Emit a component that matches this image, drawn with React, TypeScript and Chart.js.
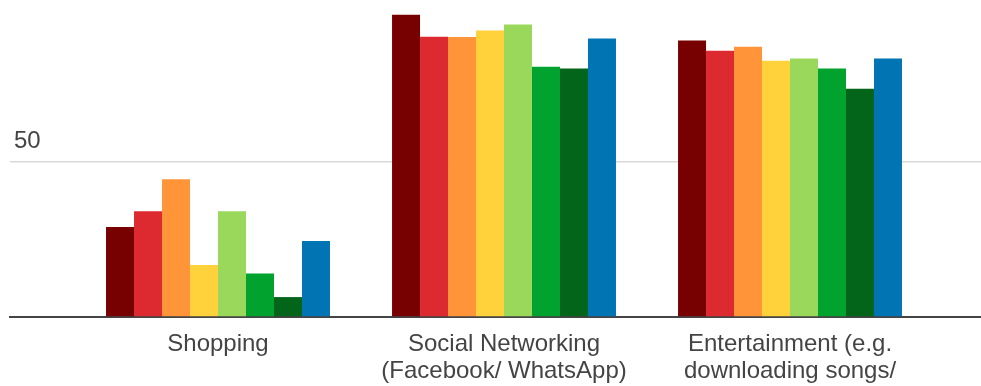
import React, { useEffect, useRef } from "react";
import { Chart, registerables } from "chart.js";

Chart.register(...registerables);

// Categories on the horizontal axis (each entry is one label, split into lines)
const categoryLines: string[][] = [
  ["Shopping"],
  ["Social Networking", "(Facebook/ WhatsApp)"],
  ["Entertainment (e.g.", "downloading songs/", "videos)"],
];

// Series values, one value per category
const series1 = [28.9, 97.1, 88.8];
const series2 = [34.0, 90.0, 85.5];
const series3 = [44.2, 89.9, 86.8];
const series4 = [16.7, 92.0, 82.3];
const series5 = [34.0, 93.9, 83.0];
const series6 = [14.0, 80.4, 79.8];
const series7 = [6.4, 79.8, 73.3];
const series8 = [24.4, 89.4, 83.0];

const seriesNames = ["A", "B", "C", "D", "E", "F", "G", "H"];
const seriesValues = [series1, series2, series3, series4, series5, series6, series7, series8];
const seriesColors = [
  "#770000",
  "#dd2a30",
  "#ff9439",
  "#ffd23c",
  "#9ad85c",
  "#02a22f",
  "#02651a",
  "#0174b3",
];

// Value axis: only the 50 gridline is labelled
const yTicks = [0, 50];
const yMax = 101.8;

const FONT = '"Liberation Sans", Arial, sans-serif';

export default function App() {
  const canvasRef = useRef<HTMLCanvasElement | null>(null);

  useEffect(() => {
    const canvas = canvasRef.current;
    if (!canvas) return;

    const datasets = seriesValues.map((vals, s) => ({
      label: seriesNames[s],
      data: vals.map((v, i) => ({ x: i + 1, y: v })),
      backgroundColor: seriesColors[s],
      borderWidth: 0,
      categoryPercentage: 0.783,
      barPercentage: 1,
    }));

    const chart = new Chart(canvas, {
      type: "bar",
      data: { datasets },
      options: {
        animation: false,
        responsive: false,
        layout: { padding: { left: 10, right: 0, top: 0, bottom: 0 } },
        plugins: {
          legend: { display: false },
          tooltip: { enabled: false },
        },
        scales: {
          x: {
            type: "linear",
            position: "bottom",
            offset: false,
            bounds: "data",
            min: 0.2727,
            max: 3.6678,
            grid: { display: false, offset: false },
            border: { display: true, color: "#444", width: 2 },
            afterBuildTicks: (scale: any) => {
              scale.ticks = categoryLines.map((_, i) => ({ value: i + 1 }));
            },
            afterFit: (scale: any) => {
              scale.height = 69;
              scale.paddingLeft = 0;
              scale.paddingRight = 0;
            },
            ticks: {
              autoSkip: false,
              maxRotation: 0,
              minRotation: 0,
              padding: 6,
              color: "#444",
              font: { family: FONT, size: 24, lineHeight: 1.125 },
              callback: (value: any) => categoryLines[Math.round(Number(value)) - 1] ?? "",
            },
          },
          y: {
            type: "linear",
            min: 0,
            max: yMax,
            afterBuildTicks: (scale: any) => {
              scale.ticks = yTicks.map((v) => ({ value: v }));
            },
            afterFit: (scale: any) => {
              scale.width = 0;
              scale.paddingTop = 0;
              scale.paddingBottom = 0;
            },
            border: { display: false },
            grid: {
              drawTicks: false,
              lineWidth: 1.5,
              color: (ctx: any) => (ctx.tick && ctx.tick.value === 50 ? "#d9d9d9" : "rgba(0,0,0,0)"),
            },
            ticks: {
              mirror: true,
              padding: 4,
              labelOffset: -20,
              color: "#444",
              font: { family: FONT, size: 24 },
              callback: (value: any) => (Number(value) === 0 ? "" : String(value)),
            },
          },
        },
      },
    });

    return () => chart.destroy();
  }, []);

  return (
    <div style={{ position: "fixed", left: 0, top: 0, width: 981, height: 386, background: "#fff" }}>
      <canvas ref={canvasRef} width={981} height={386} style={{ display: "block" }} />
    </div>
  );
}
